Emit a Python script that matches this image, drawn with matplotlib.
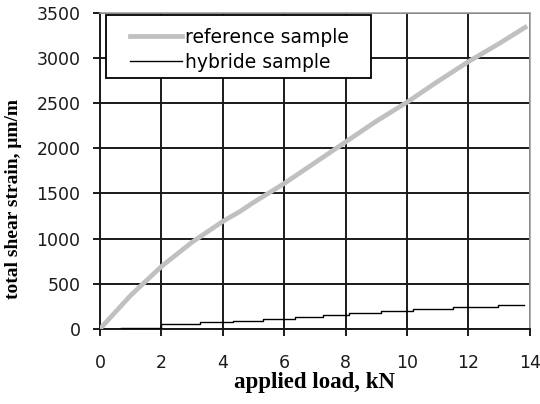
import numpy as np
import matplotlib
matplotlib.use('Agg')
import matplotlib.pyplot as plt
from matplotlib.patches import Rectangle

plt.rcParams['font.family'] = ['DejaVu Sans']

# reference sample
ref_load = [0, 0.3, 0.65, 1.0, 1.5, 2.0, 3.0, 4.0, 4.56, 5.0, 6.0, 7.0, 8.0, 9.0, 10.0, 11.0, 12.0, 13.0, 13.85]
ref_strain = [0, 110, 240, 370, 530, 690, 960, 1190, 1300, 1400, 1610, 1840, 2070, 2300, 2510, 2740, 2960, 3160, 3340]

# hybride sample, step-like record
hyb_load = [0.7, 2.0, 3.26, 4.34, 5.32, 6.35, 7.27, 8.1, 9.16, 10.2, 11.5, 12.96, 13.8]
hyb_strain = [15, 52, 74, 92, 114, 130, 155, 177, 199, 221, 243, 266, 266]

xticks = [0, 2, 4, 6, 8, 10, 12, 14]
yticks = [0, 500, 1000, 1500, 2000, 2500, 3000, 3500]

W, H = 540, 404
fig = plt.figure(figsize=(W / 100, H / 100), dpi=100)
ax = fig.add_axes([0.185, 0.186, 0.796, 0.782])

ax.plot(ref_load, ref_strain, color='#c0c0c0', lw=3.4, label='reference sample', zorder=3)
ax.step(hyb_load, hyb_strain, where='post', color='black', lw=1.0, label='hybride sample', zorder=4)

ax.set_xlim(0, 14)
ax.set_ylim(0, 3500)
ax.set_xticks(xticks)
ax.set_yticks(yticks)
ax.grid(True, color='#1a1a1a', lw=1.4)
ax.set_axisbelow(True)

for s in ['top', 'right']:
    ax.spines[s].set_color('#a0a0a0')
    ax.spines[s].set_linewidth(1.2)
for s in ['left', 'bottom']:
    ax.spines[s].set_color('#1a1a1a')
    ax.spines[s].set_linewidth(1.4)

ax.tick_params(axis='x', direction='out', length=5, width=1.4, pad=13, labelsize=12.5, colors='#1a1a1a')
ax.tick_params(axis='y', direction='out', length=5, width=1.4, pad=9, labelsize=12.5, colors='#1a1a1a')

serif = ['Liberation Serif', 'DejaVu Serif']
ax.set_xlabel('applied load, kN', fontsize=16.5, fontweight='bold', family=serif, labelpad=0)
ax.set_ylabel('total shear strain, \u03bcm/m', fontsize=14, fontweight='bold', family=serif)
ax.yaxis.set_label_coords(-(0.185 * W - 22) / (0.796 * W), 0.41)

# legend box drawn separately: wider side padding than matplotlib gives
box = Rectangle((106 / W, 1 - 78 / H), (371 - 106) / W, (78 - 15) / H, transform=fig.transFigure,
                facecolor='white', edgecolor='black', lw=1.3, zorder=5, clip_on=False)
ax.add_patch(box)

leg = ax.legend(loc='upper left', fontsize=13.5, frameon=False,
                handlelength=2.75, handletextpad=0.2, borderpad=0, labelspacing=0.3,
                borderaxespad=0, bbox_to_anchor=(130 / W, 1 - 28 / H),
                bbox_transform=fig.transFigure)
leg.set_zorder(6)

fig.savefig('out.png', dpi=100)
